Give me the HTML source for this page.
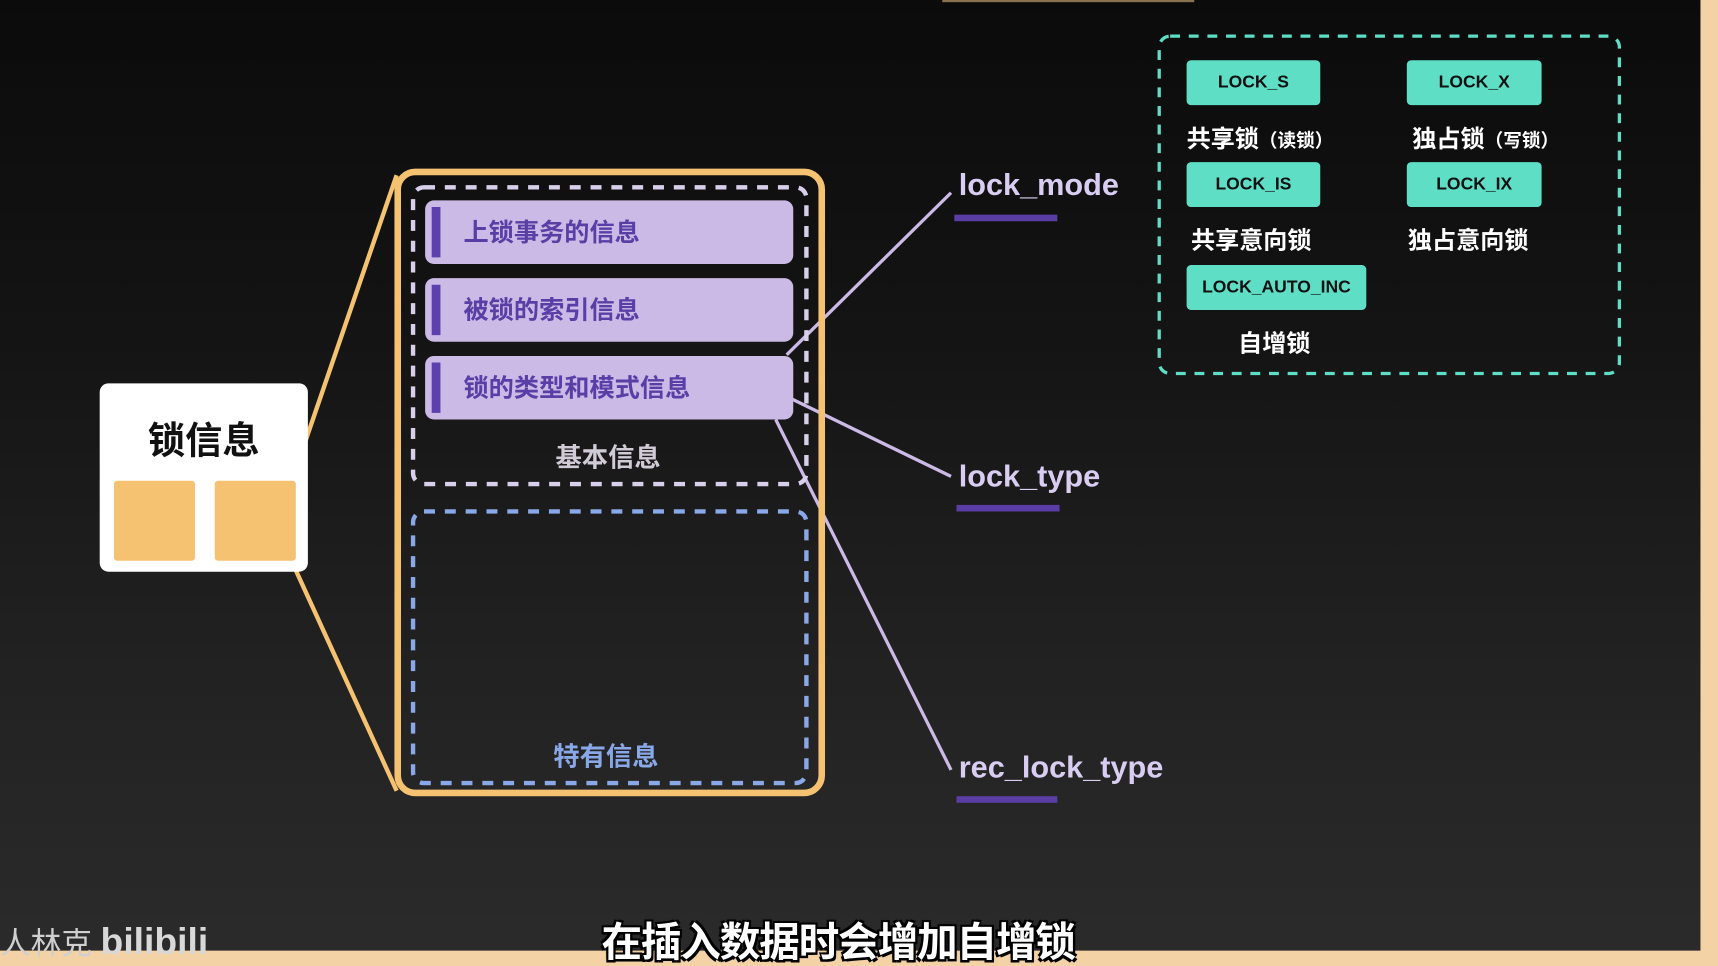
<!DOCTYPE html>
<html><head><meta charset="utf-8">
<style>
html,body{margin:0;padding:0;width:1718px;height:966px;overflow:hidden;background:#1a1a1a;}
#s{position:absolute;left:0;top:0;width:1568px;height:882px;transform:scale(1.09566,1.0952);transform-origin:0 0;
background:linear-gradient(180deg,#0b0b0b 0%,#141414 35%,#222 70%,#2c2b2b 100%);
font-family:"Liberation Sans","Noto Sans CJK SC",sans-serif;overflow:hidden;}
.a{position:absolute;box-sizing:border-box;}
.bar{background:#cbb9e6;border-radius:8px;left:388px;width:336px;height:58px;}
.bar::before{content:"";position:absolute;left:6px;top:6px;width:8px;height:46px;background:#5d3fae;}
.bar span{position:absolute;left:35px;top:0;line-height:58px;font-size:23px;font-weight:bold;color:#5a3ea6;}
.lbl{position:absolute;font-size:28px;font-weight:bold;color:#d9cdf2;}
.ul{position:absolute;height:6px;background:#5a3ea6;}
.btn{position:absolute;background:#5fdec6;border-radius:4px;height:41px;line-height:41px;text-align:center;font-size:16px;font-weight:bold;color:#111;}
.cn{position:absolute;color:#fff;font-weight:bold;font-size:22px;}
</style></head><body><div id="s">
<div class="a" style="left:1552px;top:0;width:20px;height:882px;background:#f3d3a6;"></div>
<div class="a" style="left:0;top:868px;width:1568px;height:20px;background:#f3d3a6;"></div>
<div class="a" style="left:860px;top:0;width:230px;height:2px;background:#8a7250;"></div>

<svg class="a" style="left:0;top:0" width="1568" height="882">
<line x1="266" y1="440" x2="362" y2="160" stroke="#f5c271" stroke-width="4"/>
<line x1="266" y1="512" x2="362" y2="722" stroke="#f5c271" stroke-width="4"/>
<line x1="718" y1="324" x2="868" y2="176" stroke="#cbb9e6" stroke-width="3"/>
<line x1="722" y1="364" x2="868" y2="435" stroke="#cbb9e6" stroke-width="3"/>
<line x1="708" y1="383" x2="868" y2="703" stroke="#cbb9e6" stroke-width="3"/>
<rect x="363" y="157" width="387" height="567" rx="16" fill="none" stroke="#f5c271" stroke-width="6"/>
<rect x="377" y="171" width="359" height="271" rx="10" fill="none" stroke="#d8d0ea" stroke-width="4" stroke-dasharray="10 9"/>
<rect x="377" y="467" width="359" height="248" rx="10" fill="none" stroke="#89a8e8" stroke-width="4" stroke-dasharray="10 9"/>
<rect x="1058" y="33" width="420" height="308" rx="10" fill="none" stroke="#5fdec6" stroke-width="3" stroke-dasharray="9 8"/>
</svg>

<div class="a" style="left:91px;top:350px;width:190px;height:172px;background:#fff;border-radius:8px;"></div>
<div class="a" style="left:91px;top:375px;width:190px;text-align:center;font-size:34px;font-weight:bold;color:#111;">锁信息</div>
<div class="a" style="left:104px;top:439px;width:74px;height:73px;background:#f5c271;border-radius:3px;"></div>
<div class="a" style="left:196px;top:439px;width:74px;height:73px;background:#f5c271;border-radius:3px;"></div>

<div class="a bar" style="top:183px;"><span>上锁事务的信息</span></div>
<div class="a bar" style="top:254px;"><span>被锁的索引信息</span></div>
<div class="a bar" style="top:325px;"><span>锁的类型和模式信息</span></div>
<div class="a" style="left:377px;top:398px;width:356px;text-align:center;font-size:24px;font-weight:bold;color:#d0cbd6;">基本信息</div>
<div class="a" style="left:377px;top:671px;width:352px;text-align:center;font-size:24px;font-weight:bold;color:#89a8e8;">特有信息</div>

<div class="lbl" style="left:875px;top:153px;">lock_mode</div>
<div class="ul" style="left:871px;top:196px;width:94px;"></div>
<div class="lbl" style="left:875px;top:419px;">lock_type</div>
<div class="ul" style="left:873px;top:461px;width:94px;"></div>
<div class="lbl" style="left:875px;top:685px;">rec_lock_type</div>
<div class="ul" style="left:873px;top:727px;width:92px;"></div>

<div class="btn" style="left:1083px;top:55px;width:122px;">LOCK_S</div>
<div class="btn" style="left:1284px;top:55px;width:123px;">LOCK_X</div>
<div class="btn" style="left:1083px;top:148px;width:122px;">LOCK_IS</div>
<div class="btn" style="left:1284px;top:148px;width:123px;">LOCK_IX</div>
<div class="btn" style="left:1083px;top:242px;width:164px;">LOCK_AUTO_INC</div>
<div class="cn" style="left:1083px;top:109px;">共享锁<span style="font-size:17px">（读锁）</span></div>
<div class="cn" style="left:1289px;top:109px;">独占锁<span style="font-size:17px">（写锁）</span></div>
<div class="cn" style="left:1087px;top:202px;">共享意向锁</div>
<div class="cn" style="left:1285px;top:202px;">独占意向锁</div>
<div class="cn" style="left:1130px;top:296px;">自增锁</div>

<div class="a" style="left:545px;top:830px;width:440px;text-align:center;font-size:37px;font-weight:bold;letter-spacing:-1px;color:#fff;text-shadow:0 0 3px #000,2px 2px 0 #000,-2px -2px 0 #000,2px -2px 0 #000,-2px 2px 0 #000;white-space:nowrap;">在插入数据时会增加自增锁</div>
<div class="a" style="left:0;top:840px;font-size:28px;color:#cfcfcf;white-space:nowrap;">人林克 <span style="font-size:34px;font-weight:bold;color:#d8d8d8;">bilibili</span></div>
</div></body></html>
